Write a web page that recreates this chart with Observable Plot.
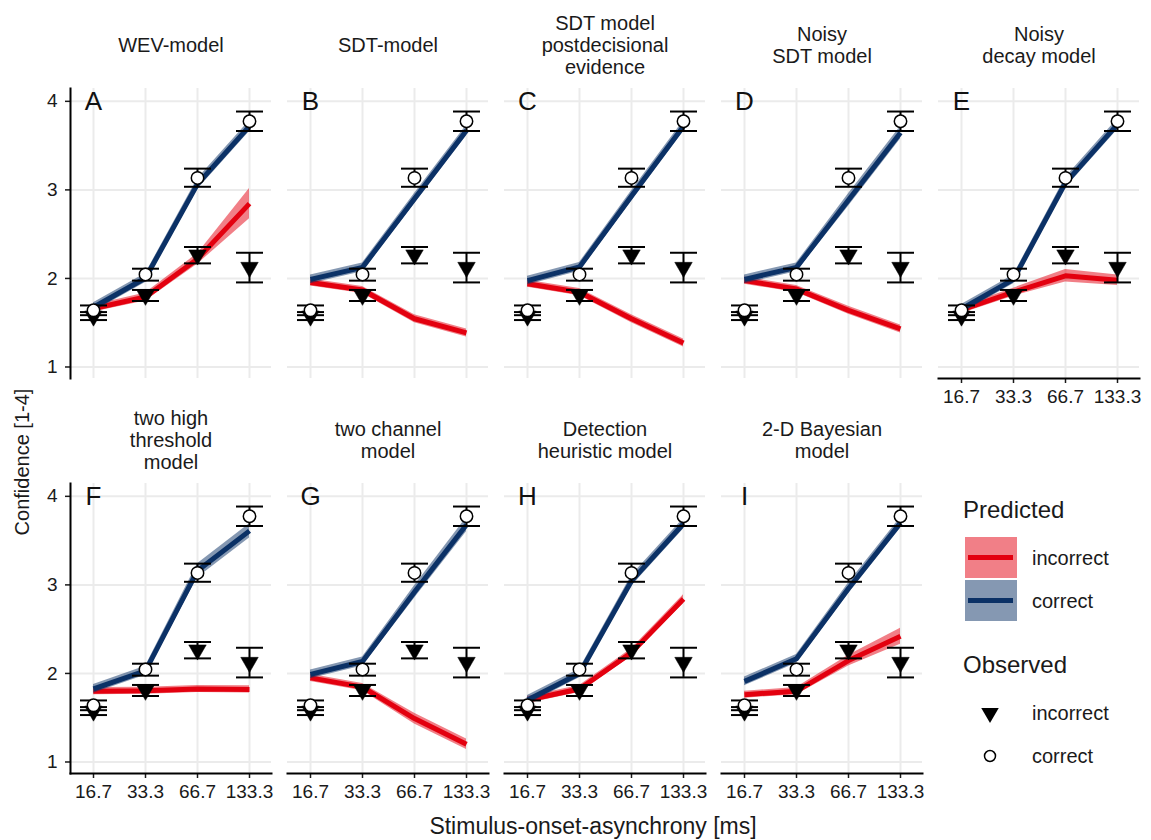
<!DOCTYPE html>
<html>
<head>
<meta charset="utf-8">
<script src="https://cdn.jsdelivr.net/npm/d3@7"></script>
<script src="https://cdn.jsdelivr.net/npm/@observablehq/plot@0.6"></script>
<style>
  html, body { margin: 0; padding: 0; background: #fff; }
  #wrap { position: relative; width: 1151px; height: 840px; font-family: "Liberation Sans", Arial, sans-serif; color: #1a1a1a; }
  #wrap svg { display: block; }
  .abs { position: absolute; white-space: nowrap; }
</style>
</head>
<body>
<div id="wrap"></div>
<script>
// ---------- data ----------
const soa = ["16.7", "33.3", "66.7", "133.3"];
const yTicks = [1, 2, 3, 4];
const panelLetters = ["A", "B", "C", "D", "E", "F", "G", "H", "I"];
const panelTitles = [
  "WEV-model",
  "SDT-model",
  "SDT model\npostdecisional\nevidence",
  "Noisy\nSDT model",
  "Noisy\ndecay model",
  "two high\nthreshold\nmodel",
  "two channel\nmodel",
  "Detection\nheuristic model",
  "2-D Bayesian\nmodel"
];

// observed (same in every panel)
const obsCorrectMean = [1.64, 2.045, 3.135, 3.775];
const obsCorrectLow  = [1.585, 1.975, 3.035, 3.665];
const obsCorrectHigh = [1.695, 2.11, 3.24, 3.885];
const obsIncorrectMean = [1.575, 1.81, 2.265, 2.125];
const obsIncorrectLow  = [1.53, 1.745, 2.17, 1.955];
const obsIncorrectHigh = [1.62, 1.87, 2.355, 2.29];

// predicted, one row per model (A..I)
const predCorrect = [
  [1.675, 2.005, 3.065, 3.72],
  [1.99, 2.125, 2.90, 3.67],
  [1.975, 2.13, 2.93, 3.72],
  [1.99, 2.125, 2.885, 3.645],
  [1.655, 1.99, 3.08, 3.74],
  [1.825, 2.03, 3.16, 3.61],
  [1.99, 2.135, 2.92, 3.68],
  [1.70, 2.0, 3.045, 3.69],
  [1.91, 2.165, 2.96, 3.70]
];
const predCorrectHalfWidth = [
  [0.05, 0.05, 0.06, 0.06],
  [0.05, 0.05, 0.06, 0.06],
  [0.05, 0.05, 0.06, 0.06],
  [0.05, 0.05, 0.07, 0.07],
  [0.05, 0.05, 0.06, 0.06],
  [0.05, 0.05, 0.08, 0.08],
  [0.05, 0.05, 0.07, 0.08],
  [0.05, 0.05, 0.06, 0.06],
  [0.05, 0.05, 0.06, 0.06]
];
const predIncorrect = [
  [1.66, 1.79, 2.22, 2.845],
  [1.955, 1.87, 1.545, 1.385],
  [1.94, 1.845, 1.545, 1.27],
  [1.975, 1.88, 1.64, 1.43],
  [1.645, 1.845, 2.03, 1.98],
  [1.80, 1.805, 1.825, 1.82],
  [1.95, 1.845, 1.49, 1.20],
  [1.70, 1.825, 2.235, 2.84],
  [1.76, 1.80, 2.145, 2.42]
];
const predIncorrectHalfWidth = [
  [0.04, 0.045, 0.06, 0.17],
  [0.04, 0.04, 0.045, 0.045],
  [0.04, 0.04, 0.045, 0.045],
  [0.04, 0.04, 0.045, 0.045],
  [0.04, 0.045, 0.07, 0.06],
  [0.04, 0.04, 0.04, 0.04],
  [0.04, 0.04, 0.06, 0.06],
  [0.04, 0.04, 0.045, 0.05],
  [0.04, 0.04, 0.06, 0.09]
];

const legendPredicted = ["incorrect", "correct"];
const legendObserved = ["incorrect", "correct"];

// ---------- styling ----------
const redLine = "#e3000f", redBand = "#e3000f";
const blueLine = "#0b3166", blueBand = "#0b3166";
const gridColor = "#ebebeb";
const textColor = "#1a1a1a";
const capHalf = 13.5;
const capSymbol = {draw(ctx) { ctx.moveTo(-capHalf, 0); ctx.lineTo(capHalf, 0); }};

// ---------- tables ----------
const panels = panelTitles.map((t, i) => ({
  i, title: t, letter: panelLetters[i],
  col: i < 5 ? i : i - 5, row: i < 5 ? 0 : 1
}));
const predC = [], predI = [], obsC = [], obsI = [], gridV = [], gridH = [];
panels.forEach((p, i) => {
  soa.forEach((s, j) => {
    predC.push({col: p.col, row: p.row, soa: s, y: predCorrect[i][j],
      lo: predCorrect[i][j] - predCorrectHalfWidth[i][j], hi: predCorrect[i][j] + predCorrectHalfWidth[i][j]});
    predI.push({col: p.col, row: p.row, soa: s, y: predIncorrect[i][j],
      lo: predIncorrect[i][j] - predIncorrectHalfWidth[i][j], hi: predIncorrect[i][j] + predIncorrectHalfWidth[i][j]});
    obsC.push({col: p.col, row: p.row, soa: s, y: obsCorrectMean[j], lo: obsCorrectLow[j], hi: obsCorrectHigh[j]});
    obsI.push({col: p.col, row: p.row, soa: s, y: obsIncorrectMean[j], lo: obsIncorrectLow[j], hi: obsIncorrectHigh[j]});
    gridV.push({col: p.col, row: p.row, soa: s});
  });
  yTicks.forEach(v => gridH.push({col: p.col, row: p.row, v}));
});
const obsAll = obsI.concat(obsC);
const F = {fx: "col", fy: "row"};

const chart = Plot.plot({
  width: 1151,
  height: 840,
  marginTop: 87,
  marginBottom: 66,
  marginLeft: 68,
  marginRight: 9,
  style: {fontFamily: "'Liberation Sans', Arial, sans-serif", fontSize: "19px", color: textColor, background: "white"},
  fx: {domain: [0, 1, 2, 3, 4], paddingInner: 0.073, paddingOuter: 0, axis: null},
  fy: {domain: [0, 1], paddingInner: 0.265, paddingOuter: 0, axis: null},
  x: {type: "point", domain: soa, padding: 0.405},
  y: {domain: [0.87, 4.145]},
  marks: [
    Plot.ruleY(gridH, {...F, y: "v", stroke: gridColor, strokeWidth: 2}),
    Plot.ruleX(gridV, {...F, x: "soa", stroke: gridColor, strokeWidth: 2}),
    Plot.axisY({ticks: yTicks, tickFormat: d3.format("d"), tickSize: 5, tickPadding: 8, fontSize: 19, label: null, facetAnchor: "left", color: textColor, strokeWidth: 1.5}),
    Plot.axisX({tickSize: 5, tickPadding: 6, fontSize: 19, label: null, facetAnchor: "bottom-empty", color: textColor, strokeWidth: 1.5}),
    Plot.frame({anchor: "left", facetAnchor: "left", stroke: "black", strokeWidth: 2}),
    Plot.frame({anchor: "bottom", facetAnchor: "bottom-empty", stroke: "black", strokeWidth: 2}),
    Plot.areaY(predI, {...F, x: "soa", y1: "lo", y2: "hi", fill: redBand, fillOpacity: 0.5}),
    Plot.lineY(predI, {...F, x: "soa", y: "y", stroke: redLine, strokeWidth: 5, strokeLinecap: "butt"}),
    Plot.areaY(predC, {...F, x: "soa", y1: "lo", y2: "hi", fill: blueBand, fillOpacity: 0.5}),
    Plot.lineY(predC, {...F, x: "soa", y: "y", stroke: blueLine, strokeWidth: 5, strokeLinecap: "butt"}),
    Plot.ruleX(obsAll, {...F, x: "soa", y1: "lo", y2: "hi", stroke: "black", strokeWidth: 2}),
    Plot.dot(obsAll, {...F, x: "soa", y: "lo", symbol: capSymbol, fill: "none", stroke: "black", strokeWidth: 2}),
    Plot.dot(obsAll, {...F, x: "soa", y: "hi", symbol: capSymbol, fill: "none", stroke: "black", strokeWidth: 2}),
    Plot.dot(obsI, {...F, x: "soa", y: "y", symbol: "triangle", rotate: 180, r: 6.5, fill: "black", stroke: "black", strokeWidth: 0.5}),
    Plot.dot(obsC, {...F, x: "soa", y: "y", r: 6.2, fill: "white", stroke: "black", strokeWidth: 1.5}),
    Plot.text(panels, {...F, x: () => soa[0], y: () => yTicks[yTicks.length - 1], text: "letter", fontSize: 26, fill: "#111"}),
    Plot.text(panels, {...F, text: "title", frameAnchor: "top", dy: -44, lineAnchor: "middle", lineHeight: 1.1, fontSize: 20, fill: textColor})
  ]
});

const wrap = document.getElementById("wrap");
wrap.appendChild(chart);

function addText(txt, x, y, size, opts = {}) {
  const d = document.createElement("div");
  d.className = "abs";
  d.textContent = txt;
  d.style.fontSize = size + "px";
  d.style.left = x + "px";
  d.style.top = y + "px";
  d.style.transform = opts.transform || "translate(0,-50%)";
  wrap.appendChild(d);
  return d;
}
// axis titles
addText("Confidence [1-4]", 22, 462, 20, {transform: "translate(-50%,-50%) rotate(-90deg)"});
addText("Stimulus-onset-asynchrony [ms]", 593, 826, 23, {transform: "translate(-50%,-50%)"});

// legend
addText("Predicted", 963, 510, 24);
const lsvg = d3.create("svg").attr("width", 90).attr("height", 280)
  .style("position", "absolute").style("left", "960px").style("top", "530px");
const keyColors = [[redBand, redLine], [blueBand, blueLine]];
legendPredicted.forEach((lab, k) => {
  const top = 7 + k * 43;
  lsvg.append("rect").attr("x", 5).attr("y", top).attr("width", 52).attr("height", 41)
    .attr("fill", keyColors[k][0]).attr("fill-opacity", 0.5);
  lsvg.append("line").attr("x1", 8).attr("x2", 53).attr("y1", top + 20.5).attr("y2", top + 20.5)
    .attr("stroke", keyColors[k][1]).attr("stroke-width", 5);
  addText(lab, 1032, 530 + top + 20.5, 20);
});
addText("Observed", 963, 665, 24);
legendObserved.forEach((lab, k) => {
  const cy = 183 + k * 43;
  if (k === 0) {
    lsvg.append("path").attr("d", d3.symbol(d3.symbolTriangle, Math.PI * 6.5 * 6.5)())
      .attr("transform", `translate(30,${cy}) rotate(180)`).attr("fill", "black");
  } else {
    lsvg.append("circle").attr("cx", 30).attr("cy", cy).attr("r", 5.5)
      .attr("fill", "white").attr("stroke", "black").attr("stroke-width", 1.5);
  }
  addText(lab, 1032, 530 + cy, 20);
});
wrap.appendChild(lsvg.node());
</script>
</body>
</html>
